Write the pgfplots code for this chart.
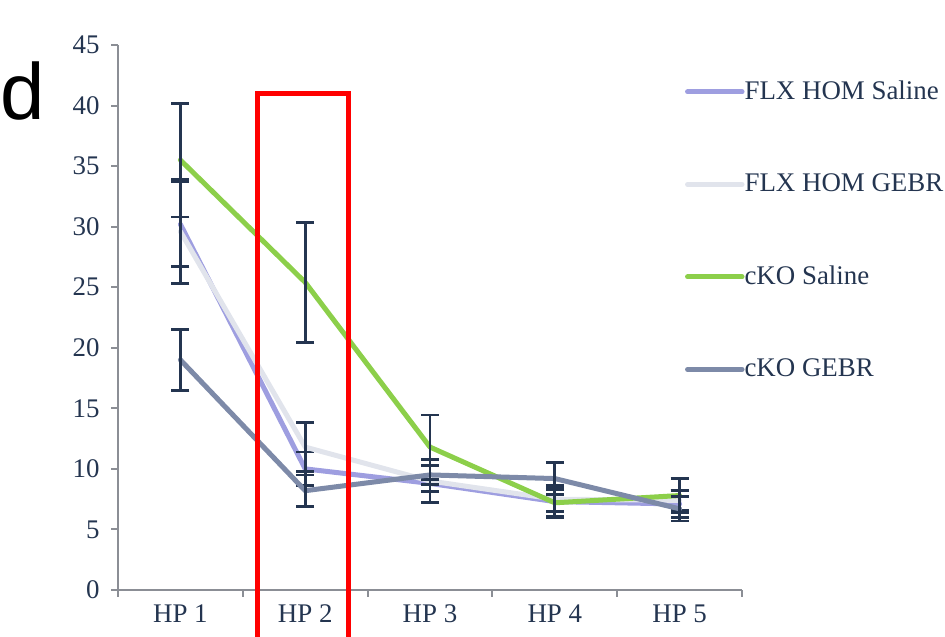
\documentclass[border=0pt]{standalone}
\usepackage{fontspec}
\setmainfont{Liberation Serif}
\newfontfamily\dfont{Liberation Sans}
\usepackage{pgfplots}
\usepackage{pgfplotstable}
\pgfplotsset{compat=1.18}
\definecolor{cpurple}{HTML}{9E9EE0}
\definecolor{clgray}{HTML}{E1E4EC}
\definecolor{cgreen}{HTML}{8CCF4A}
\definecolor{cdgray}{HTML}{7D8AA8}
\definecolor{cnavy}{HTML}{243550}
\definecolor{caxis}{HTML}{8B8E95}

\pgfplotstableread{
x y e
1 30.2 3.5
2 10.0 1.4
3 8.8 0.7
4 7.3 1.3
5 7.1 1.1
}\flxsal
\pgfplotstableread{
x y e
1 29.6 4.3
2 11.8 2.0
3 9.0 1.8
4 7.5 1.0
5 7.4 0.8
}\flxgebr
\pgfplotstableread{
x y e
1 35.5 4.7
2 25.4 4.95
3 11.8 2.65
4 7.2 1.1
5 7.8 1.4
}\ckosal
\pgfplotstableread{
x y e
1 19.0 2.5
2 8.2 1.3
3 9.5 0.8
4 9.2 1.3
5 6.7 1.0
}\ckogebr

\begin{document}
\begin{tikzpicture}[x=1bp,y=1bp]
\useasboundingbox (0,0) rectangle (945,637);
\node[anchor=base west, inner sep=0pt, font=\dfont\fontsize{80}{80}\selectfont] at (0,517) {d};
\begin{axis}[
  at={(118bp,47bp)}, anchor=south west,
  scale only axis, width=624bp, height=545bp,
  xmin=0.5, xmax=5.5, ymin=0, ymax=45,
  axis x line*=bottom, axis y line*=left,
  axis line style={caxis, line width=2.5bp, -},
  xtick={0.5,1.5,...,5.5},
  x tick label as interval,
  xticklabels={HP 1,HP 2,HP 3,HP 4,HP 5},
  ytick={0,5,...,45},
  tick align=outside,
  major tick length=7bp,
  tick style={caxis, line width=2bp},
  /pgf/number format/assume math mode=true,
  ticklabel style={font=\fontsize{27}{32}\selectfont, text=cnavy},
  xticklabel style={yshift=-4bp},
  yticklabel style={xshift=-8bp},
  clip=false,
  legend style={at={(0.9087,0.935)}, anchor=north west, draw=none, fill=none,
    inner sep=0pt, outer sep=0pt, row sep=67.5bp,
    font=\fontsize{27}{32}\selectfont, text=cnavy,
    nodes={inner sep=0pt, text height=19bp, text depth=6bp}},
  legend cell align=left,
  legend image code/.code={\draw[#1, line width=5bp, line cap=round] (2.5bp,1bp) -- (57bp,1bp);},
  every axis plot/.append style={line width=5bp, line join=round, line cap=round, mark=none},
  error bars/error bar style={cnavy, line width=2.8bp, line cap=butt},
  error bars/error mark options={rotate=90, cnavy, mark size=9bp, line width=2.8bp},
]
\addplot[cpurple, error bars/.cd, y dir=both, y explicit] table[x=x, y=y, y error=e] {\flxsal};
\addlegendentry{FLX HOM Saline}
\addplot[clgray, error bars/.cd, y dir=both, y explicit] table[x=x, y=y, y error=e] {\flxgebr};
\addlegendentry{FLX HOM GEBR}
\addplot[cgreen, error bars/.cd, y dir=both, y explicit] table[x=x, y=y, y error=e] {\ckosal};
\addlegendentry{cKO Saline}
\addplot[cdgray, error bars/.cd, y dir=both, y explicit] table[x=x, y=y, y error=e] {\ckogebr};
\addlegendentry{cKO GEBR}
\draw[red, line width=5bp] (axis cs:1.614,-10) -- (axis cs:1.614,41.0) -- (axis cs:2.343,41.0) -- (axis cs:2.343,-10);
\end{axis}
\end{tikzpicture}
\end{document}
